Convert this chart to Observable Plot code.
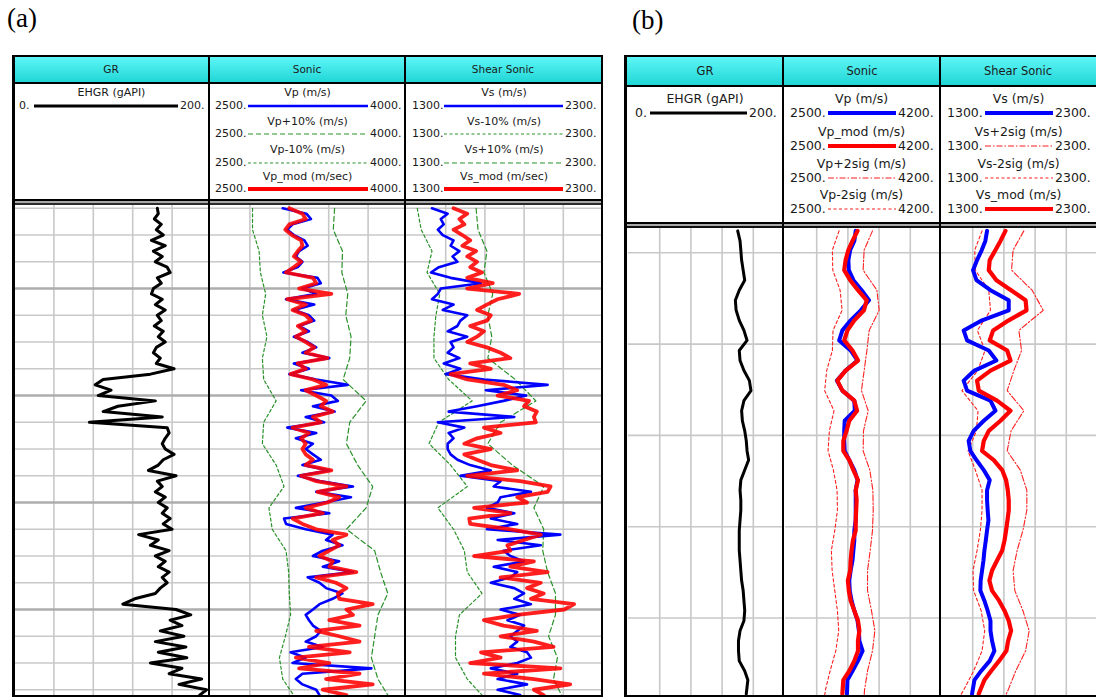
<!DOCTYPE html>
<html>
<head>
<meta charset="utf-8">
<script src="https://cdn.jsdelivr.net/npm/d3@7"></script>
<script src="https://cdn.jsdelivr.net/npm/@observablehq/plot@0.6"></script>
<style>
html,body{margin:0;padding:0;background:#fff;}
#root{position:relative;width:1096px;height:697px;overflow:hidden;background:#fff;font-family:"DejaVu Sans",Verdana,sans-serif;color:#1a1a1a;}
#root div{position:absolute;white-space:nowrap;}
#root svg{position:absolute;}
</style>
</head>
<body>
<div id="root"></div>
<script>
// ---------------- Panel (a) data ----------------
const depthA = [
2000.0,2000.4,2000.8,2001.2,2001.6,2002.0,2002.4,2002.8,2003.2,2003.6,
2004.0,2004.4,2004.8,2005.2,2005.6,2006.0,2006.4,2006.8,2007.2,2007.6,
2008.0,2008.4,2008.8,2009.2,2009.6,2010.0,2010.4,2010.8,2011.2,2011.6,
2012.0,2012.4,2012.8,2013.2,2013.6,2014.0,2014.4,2014.8,2015.2,2015.6,
2016.0,2016.4,2016.8,2017.2,2017.6,2018.0,2018.4,2018.8,2019.2,2019.6,
2020.0,2020.4,2020.8,2021.2,2021.6,2022.0,2022.4,2022.8,2023.2,2023.6,
2024.0,2024.4,2024.8,2025.2,2025.6,2026.0,2026.4,2026.8,2027.2,2027.6,
2028.0,2028.4,2028.8,2029.2,2029.6,2030.0,2030.4,2030.8,2031.2,2031.6,
2032.0,2032.4,2032.8,2033.2,2033.6,2034.0,2034.4,2034.8,2035.2,2035.6,
2036.0,2036.4];
const grA = [
145,146,142,149,144,151,139,153,141,150,
143,155,158,145,149,141,139,150,143,153,
145,149,142,151,146,153,144,141,148,144,
162,138,90,82,98,85,143,105,90,150,
76,155,157,153,150,153,162,151,146,136,
164,145,150,143,153,146,155,150,158,151,
160,126,146,138,157,143,153,146,157,150,
155,148,143,122,110,164,179,158,170,148,
172,143,174,146,175,138,170,157,190,167,
195,188];
const vpA = [
3050,3230,3265,3125,3085,3135,3215,3240,3175,3150,
3200,3165,3055,3315,3340,3200,3305,3075,3290,3135,
3250,3290,3175,3250,3135,3240,3305,3200,3405,3135,
3250,3100,3305,3545,3190,3420,3470,3280,3445,3225,
3365,3085,3305,3150,3280,3225,3280,3340,3200,3405,
3165,3330,3585,3305,3570,3365,3150,3405,3060,3075,
3225,3430,3380,3505,3355,3280,3480,3355,3585,3240,
3330,3380,3505,3430,3330,3280,3225,3250,3280,3340,
3305,3225,3355,3110,3225,3125,3725,3200,3150,3200,
3305,3330];
const vpModA = [
3100,3200,3225,3100,3070,3120,3190,3200,3165,3135,
3190,3135,3075,3280,3305,3175,3420,3085,3225,3125,
3225,3265,3165,3225,3150,3225,3290,3225,3390,3165,
3225,3110,3280,3380,3225,3305,3380,3340,3430,3280,
3340,3125,3250,3190,3225,3200,3225,3280,3225,3420,
3190,3305,3535,3315,3480,3390,3225,3355,3125,3200,
3305,3535,3430,3480,3405,3330,3430,3405,3610,3305,
3455,3535,3470,3480,3735,3535,3585,3405,3635,3305,
3480,3635,3250,3560,3150,3405,3175,3635,3380,3735,
3355,3535];
const vsA = [
1430,1510,1475,1490,1460,1485,1540,1525,1570,1535,
1560,1465,1425,1525,1680,1475,1460,1430,1540,1485,
1610,1575,1560,1510,1610,1525,1540,1510,1570,1490,
1575,1500,1695,2020,1705,1910,1795,1660,1515,1850,
1460,1595,1515,1540,1510,1510,1525,1560,1625,1730,
1575,1780,1745,1935,1780,1765,1710,1850,1730,1865,
1710,2085,1765,1985,1795,1830,1900,1745,1865,1830,
1730,1850,1900,1850,1935,1780,1880,1815,1900,1865,
1830,1865,1830,1915,1935,1865,1730,1865,1765,1915,
1765,1880];
const vsModA = [
1540,1610,1570,1595,1540,1585,1625,1585,1655,1610,
1660,1625,1685,1610,1740,1610,1875,1765,1710,1660,
1730,1710,1625,1695,1660,1610,1710,1780,1830,1625,
1730,1525,1610,1795,1865,1765,1925,1900,1965,1950,
1960,1695,1780,1660,1595,1730,1595,1660,1730,1865,
1610,1880,2035,2020,1865,1915,1645,1830,1620,1625,
1830,1985,1900,1815,1830,1645,1950,1830,2020,1780,
1985,1915,2000,1935,2155,2105,1865,1695,1795,1965,
1780,1950,2050,1680,1780,1625,2085,1695,1950,2135,
1950,2000];
const depthAe = [2000,2001.6,2003.2,2004.8,2006.4,2008,2009.6,2011.2,2012.8,2014.4,2016,2017.6,
                 2019.2,2020.8,2022.4,2024,2025.6,2027.2,2028.8,2030.4,2032,2033.6,2035.2,2036.8];
const vpPlus10A  = [3445,3435,3505,3500,3545,3530,3570,3560,3510,3685,3560,3535,3620,3735,3685,3535,3750,3795,3850,3775,3750,3725,3775,3875];
const vpMinus10A = [2820,2820,2870,2880,2920,2895,2930,2895,2905,3000,2905,2895,3000,3060,2945,2970,3075,3095,3100,3110,3070,3025,3050,3160];
const vsMinus10A = [1355,1375,1430,1405,1470,1450,1440,1440,1515,1635,1465,1415,1525,1610,1460,1540,1595,1610,1685,1570,1550,1550,1610,1710];
const vsPlus10A  = [1655,1665,1710,1695,1740,1715,1735,1715,1855,1960,1780,1715,1840,2000,1950,2000,1995,2020,2060,2060,2025,2070,2050,2105];

// ---------------- Panel (b) data ----------------
const depthB = [1997.6,1998.7,1999.7,2000.8,2001.9,2003.0,2004.1,2005.2,2006.3,2007.4,2008.5,2009.6,
  2010.7,2011.8,2012.9,2014.0,2015.1,2016.2,2017.3,2018.4,2019.5,2020.6,2021.7,
  2022.7,2023.8,2024.9,2026.0,2027.1,2028.2,2029.3,2030.4,2031.5,2032.6,2033.7,2034.8,
  2035.9,2037.0,2038.1,2039.2,2040.3,2041.4,2042.5,2043.6,2044.7,2045.8,2046.8,2048.3];
const grB = [140,143,144,145,147,149,142,137,138,142,148,152,142,143,148,155,157,148,145,146,149,151,152,
  154,149,144,143,144,144,143,142,142,142,143,144,145,147,148,149,148,143,141,141,142,149,153,151];
const vpB = [3265,3250,3205,3185,3190,3240,3330,3410,3320,3210,3120,3085,3210,3285,3155,3060,3120,3250,3255,3145,3140,3140,3145,
  3195,3250,3285,3265,3265,3265,3265,3250,3250,3240,3230,3210,3195,3200,3220,3250,3285,3300,3305,3340,3290,3230,3175,3170];
const vpModB = [3285,3230,3185,3155,3140,3205,3290,3385,3355,3250,3175,3140,3230,3290,3155,3065,3120,3250,3280,3195,3165,3130,3130,
  3195,3240,3290,3265,3275,3270,3265,3265,3235,3220,3210,3205,3180,3190,3210,3250,3290,3305,3290,3290,3250,3195,3130,3120];
const vsB = [1592,1581,1558,1528,1502,1524,1614,1731,1731,1560,1442,1464,1603,1652,1511,1442,1464,1614,1646,1571,1506,1474,1485,
  1524,1571,1609,1592,1592,1596,1601,1592,1584,1575,1569,1560,1551,1549,1575,1596,1614,1614,1624,1639,1609,1554,1511,1496];
const vsModB = [1710,1678,1646,1609,1603,1652,1746,1839,1845,1731,1631,1609,1721,1742,1614,1528,1539,1656,1742,1678,1603,1571,1560,
  1635,1689,1714,1725,1731,1731,1723,1714,1704,1689,1656,1624,1607,1624,1669,1704,1731,1746,1727,1716,1669,1618,1575,1539];
const depthBe = [1997.6,1999.7,2001.9,2004.1,2006.3,2008.5,2010.7,2012.9,2015.1,2017.3,2019.5,2021.7,
  2023.8,2026.0,2028.2,2030.4,2032.6,2034.8,2037.0,2039.2,2041.4,2043.6,2045.8,2047.9,2048.5];
const vpMinus2B = [3084,3011,3015,3095,3117,3018,3011,2949,2927,3029,2978,2964,3022,3062,3066,3037,3000,3008,3037,3066,3080,3048,2986,2935,2927];
const vpPlus2B  = [3448,3357,3346,3496,3521,3412,3387,3357,3328,3401,3350,3346,3419,3452,3456,3448,3423,3394,3394,3437,3474,3448,3394,3361,3357];
const vsMinus2B = [1560,1513,1517,1603,1614,1530,1579,1532,1431,1534,1524,1470,1517,1560,1560,1549,1528,1502,1506,1554,1577,1560,1506,1442,1421];
const vsPlus2B  = [1828,1759,1749,1881,1952,1796,1813,1764,1721,1828,1746,1721,1805,1847,1847,1822,1785,1759,1770,1822,1862,1839,1776,1727,1710];

// scale ranges and tick values
const grDomain = [0, 200], grTicks = [40, 80, 120, 160];
const vpDomainA = [2500, 4000], vpTicksA = [2800, 3100, 3400, 3700];
const vpDomainB = [2500, 4200], vpTicksB = [2840, 3180, 3520, 3860];
const vsDomain = [1300, 2300], vsTicks = [1500, 1700, 1900, 2100];
const depthDomainA = [1999.79, 2036.43];
const depthMinorA = [2000,2002,2004,2008,2010,2012,2016,2018,2020,2024,2026,2028,2032,2034,2036];
const depthMajorA = [2006, 2014, 2022, 2030];
const depthDomainB = [1997.34, 2048.49];
const depthTicksB = [2000, 2010, 2020, 2030, 2040];

// ---------------- styles ----------------
const S = {
  grA:    {stroke: "#000", width: 3},
  vpA:    {stroke: "#0000ff", width: 2.6},
  modA:   {stroke: "#ff0000", width: 3.8, opacity: 0.88},
  plus10: {stroke: "#2a922a", width: 1.2, dash: "5,3"},
  minus10:{stroke: "#2a922a", width: 1.2, dash: "3,2.5"},
  grB:    {stroke: "#000", width: 3},
  vpB:    {stroke: "#0000ff", width: 4},
  modB:   {stroke: "#ff0000", width: 4.2},
  plus2:  {stroke: "#ff2020", width: 1.1, dash: "6,2,1.5,2"},
  minus2: {stroke: "#ff2020", width: 1.1, dash: "3,2.5"}
};

const root = document.getElementById("root");
function box(l, t, w, h, bg) {
  const e = document.createElement("div");
  Object.assign(e.style, {left: l + "px", top: t + "px", width: w + "px", height: h + "px", background: bg});
  root.appendChild(e); return e;
}
function txt(str, l, cy, fs, extra) {
  const e = document.createElement("div");
  e.textContent = str;
  Object.assign(e.style, {left: l + "px", top: (cy - fs * 0.62) + "px", fontSize: fs + "px", lineHeight: (fs * 1.24) + "px"}, extra || {});
  root.appendChild(e); return e;
}
function ctxt(str, cx, cy, fs, extra) {
  return txt(str, cx - 150, cy, fs, Object.assign({width: "300px", textAlign: "center"}, extra || {}));
}
function swatch(x1, x2, y, st) {
  const ns = "http://www.w3.org/2000/svg";
  const s = document.createElementNS(ns, "svg");
  s.setAttribute("width", x2 - x1); s.setAttribute("height", 10);
  s.style.left = x1 + "px"; s.style.top = (y - 5) + "px";
  const ln = document.createElementNS(ns, "line");
  ln.setAttribute("x1", 0); ln.setAttribute("x2", x2 - x1); ln.setAttribute("y1", 5); ln.setAttribute("y2", 5);
  ln.setAttribute("stroke", st.stroke); ln.setAttribute("stroke-width", st.width);
  if (st.dash) ln.setAttribute("stroke-dasharray", st.dash);
  s.appendChild(ln); root.appendChild(s);
}
function legendEntry(cellL, cellW, ty, ly, title, lo, hi, loX, hiX, x1, x2, st, fs) {
  ctxt(title, cellL + cellW / 2, ty, fs);
  txt(lo, loX, ly, fs);
  txt(hi, hiX, ly, fs);
  swatch(x1, x2, ly, st);
}
function track(left, top, width, height, xDomain, yDomain, xTicks, hMinor, hMajor, series) {
  const marks = [
    Plot.ruleX(xTicks, {stroke: "#c8c8c8", strokeWidth: 1.6}),
    Plot.ruleY(hMinor, {stroke: "#c8c8c8", strokeWidth: 1.6})
  ];
  if (hMajor.length) marks.push(Plot.ruleY(hMajor, {stroke: "#adadad", strokeWidth: 2.6}));
  for (const s of series) {
    const rows = s.depth.map((d, i) => ({d, v: s.values[i]}));
    const o = {x: "v", y: "d", stroke: s.st.stroke, strokeWidth: s.st.width, strokeLinejoin: "round", clip: true};
    if (s.st.opacity) o.strokeOpacity = s.st.opacity;
    if (s.st.dash) o.strokeDasharray = s.st.dash;
    marks.push(Plot.line(rows, o));
  }
  const svg = Plot.plot({
    width, height, margin: 0,
    x: {domain: xDomain, axis: null},
    y: {domain: yDomain, reverse: true, axis: null},
    style: {background: "#fff", overflow: "hidden"},
    marks
  });
  svg.style.left = left + "px"; svg.style.top = top + "px";
  root.appendChild(svg);
}

const CYAN = "linear-gradient(to bottom, #5ef6f6, #21d6d6)";

// ================= Panel (a) =================
txt("(a)", 7, 19, 27, {fontFamily: "'Liberation Serif','Times New Roman',serif", color: "#000"});
box(14, 57, 588, 25, CYAN);
ctxt("GR", 111, 70, 10.5);
ctxt("Sonic", 307, 70, 10.5);
ctxt("Shear Sonic", 503, 70, 10.5);

const tA = 205, hA = 490;
track(14, tA, 197, hA, grDomain, depthDomainA, grTicks, depthMinorA, depthMajorA, [
  {depth: depthA, values: grA, st: S.grA}
]);
track(210, tA, 197, hA, vpDomainA, depthDomainA, vpTicksA, depthMinorA, depthMajorA, [
  {depth: depthAe, values: vpMinus10A, st: S.minus10},
  {depth: depthAe, values: vpPlus10A, st: S.plus10},
  {depth: depthA, values: vpA, st: S.vpA},
  {depth: depthA, values: vpModA, st: S.modA}
]);
track(406, tA, 196, hA, vsDomain, depthDomainA, vsTicks, depthMinorA, depthMajorA, [
  {depth: depthAe, values: vsMinus10A, st: S.minus10},
  {depth: depthAe, values: vsPlus10A, st: S.plus10},
  {depth: depthA, values: vsA, st: S.vpA},
  {depth: depthA, values: vsModA, st: S.modA}
]);

// legend (a)
const fa = 11;
legendEntry(14, 195, 93, 106, "EHGR (gAPI)", "0.", "200.", 19, 180, 34, 178, S.grA, fa);
const sonicA = [["Vp (m/s)", S.vpA], ["Vp+10% (m/s)", S.plus10], ["Vp-10% (m/s)", S.minus10], ["Vp_mod (m/sec)", S.modA]];
const shearA = [["Vs (m/s)", S.vpA], ["Vs-10% (m/s)", S.minus10], ["Vs+10% (m/s)", S.plus10], ["Vs_mod (m/sec)", S.modA]];
const rowsA = [[93, 106], [122, 134], [150, 163], [177, 189]];
sonicA.forEach(([t, st], i) => legendEntry(210, 195, rowsA[i][0], rowsA[i][1], t, "2500.", "4000.", 215, 370, 248, 368, st, fa));
shearA.forEach(([t, st], i) => legendEntry(406, 196, rowsA[i][0], rowsA[i][1], t, "1300.", "2300.", 412, 565, 444, 563, st, fa));

// frame lines (a)
box(12, 55, 591, 2, "#000");
box(12, 82, 591, 2, "#000");
box(12, 199, 591, 2, "#000");
box(12, 201, 591, 2, "#a8a8a8");
box(12, 203, 591, 2, "#2a2a2a");
box(12, 695, 591, 2, "#000");
box(12, 55, 2.5, 642, "#000");
box(601, 55, 2, 642, "#000");
box(208, 55, 2, 642, "#000");
box(404, 55, 2, 642, "#000");

// ================= Panel (b) =================
txt("(b)", 632, 21, 27, {fontFamily: "'Liberation Serif','Times New Roman',serif", color: "#000"});
box(627, 57, 470, 28, CYAN);
ctxt("GR", 705, 71, 11.5);
ctxt("Sonic", 862, 71, 11.5);
ctxt("Shear Sonic", 1018, 71, 11.5);

const tB = 228, hB = 467;
track(628, tB, 156, hB, grDomain, depthDomainB, grTicks, depthTicksB, [], [
  {depth: depthB, values: grB, st: S.grB}
]);
track(785, tB, 156, hB, vpDomainB, depthDomainB, vpTicksB, depthTicksB, [], [
  {depth: depthBe, values: vpMinus2B, st: S.minus2},
  {depth: depthBe, values: vpPlus2B, st: S.plus2},
  {depth: depthB, values: vpB, st: S.vpB},
  {depth: depthB, values: vpModB, st: S.modB}
]);
track(941, tB, 156, hB, vsDomain, depthDomainB, vsTicks, depthTicksB, [], [
  {depth: depthBe, values: vsMinus2B, st: S.minus2},
  {depth: depthBe, values: vsPlus2B, st: S.plus2},
  {depth: depthB, values: vsB, st: S.vpB},
  {depth: depthB, values: vsModB, st: S.modB}
]);

// legend (b)
const fb = 12.5;
legendEntry(627, 156, 99, 113, "EHGR (gAPI)", "0.", "200.", 635, 749, 650, 747, S.grB, fb);
const sonicB = [["Vp (m/s)", S.vpB], ["Vp_mod (m/s)", S.modB], ["Vp+2sig (m/s)", S.plus2], ["Vp-2sig (m/s)", S.minus2]];
const shearB = [["Vs (m/s)", S.vpB], ["Vs+2sig (m/s)", S.plus2], ["Vs-2sig (m/s)", S.minus2], ["Vs_mod (m/s)", S.modB]];
const rowsB = [[99, 113], [132, 146], [164, 178], [195, 209]];
sonicB.forEach(([t, st], i) => legendEntry(784, 155, rowsB[i][0], rowsB[i][1], t, "2500.", "4200.", 790, 898, 828, 896, st, fb));
shearB.forEach(([t, st], i) => legendEntry(941, 155, rowsB[i][0], rowsB[i][1], t, "1300.", "2300.", 947, 1055, 985, 1053, st, fb));

// frame lines (b)
box(624, 55, 472, 2, "#000");
box(624, 85, 472, 2, "#000");
box(624, 222, 472, 2, "#000");
box(624, 224, 472, 2, "#a8a8a8");
box(624, 226, 472, 2, "#111");
box(624, 695, 472, 2, "#000");
box(624, 55, 3, 642, "#000");
box(782, 55, 2, 642, "#000");
box(939, 55, 2, 642, "#000");
</script>
</body>
</html>
